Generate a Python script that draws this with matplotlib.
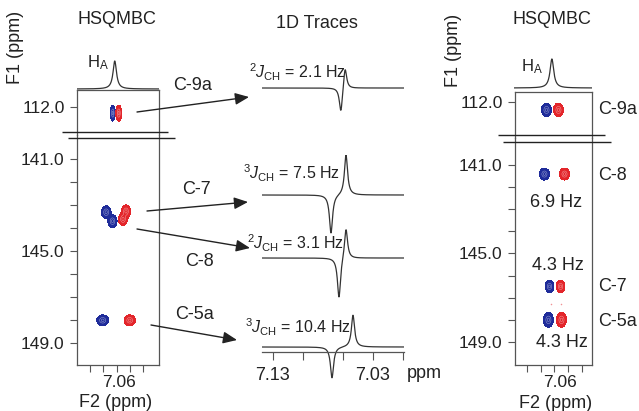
import numpy as np
import matplotlib
matplotlib.use('Agg')
import matplotlib.pyplot as plt
import matplotlib.transforms as mtransforms

plt.rcParams['font.family'] = ['Liberation Sans', 'DejaVu Sans']
plt.rcParams['mathtext.fontset'] = 'custom'
plt.rcParams['mathtext.rm'] = 'Liberation Sans'
plt.rcParams['mathtext.it'] = 'Liberation Sans:italic'
plt.rcParams['mathtext.bf'] = 'Liberation Sans:bold'

# ---------------- data ----------------
# Left HSQMBC panel (F2 ppm, F1 ppm) for blue / red antiphase components
left_labels = ['C-9a', 'C-7', 'C-8', 'C-5a']
left_blue_f2 = [7.0630, 7.0680, 7.0632, 7.0706]
left_blue_f1 = [112.26, 143.32, 143.71, 148.01]
left_red_f2 = [7.0585, 7.0530, 7.0553, 7.0502]
left_red_f1 = [112.26, 143.28, 143.62, 148.01]
left_blue_sig_f2 = [0.0009, 0.0017, 0.0016, 0.0021]
left_red_sig_f2 = [0.00105, 0.0016, 0.0016, 0.0020]
left_sig_f1 = [0.16, 0.13, 0.13, 0.11]

# Right HSQMBC panel
right_labels = ['C-9a', 'C-8', 'C-7', 'C-5a']
right_blue_f2 = [7.0658, 7.0673, 7.0636, 7.0644]
right_red_f2 = [7.0571, 7.0527, 7.0556, 7.0549]
right_f1 = [112.36, 141.41, 146.49, 148.00]
right_sig_f2 = [0.0017, 0.0017, 0.0015, 0.0017]
right_sig_f1 = [0.145, 0.126, 0.126, 0.155]
right_weak_f2 = [7.0622, 7.0556]
right_weak_f1 = [147.28, 147.28]
right_J_text = ['6.9 Hz', '4.3 Hz', '4.3 Hz']

# 1D projection (H_A)
proj_center = 7.0615
proj_height_left = 28
proj_height_right = 29
proj_hwhm = 0.0016

# 1D traces: antiphase doublets
trace_labels = [r'$^{2}\mathit{J}_{\mathrm{CH}}$ = 2.1 Hz',
                r'$^{3}\mathit{J}_{\mathrm{CH}}$ = 7.5 Hz',
                r'$^{2}\mathit{J}_{\mathrm{CH}}$ = 3.1 Hz',
                r'$^{3}\mathit{J}_{\mathrm{CH}}$ = 10.4 Hz']
trace_pos_ppm = [7.0579, 7.0570, 7.0570, 7.0500]
trace_neg_ppm = [7.0621, 7.0720, 7.0640, 7.0710]
trace_pos_amp = [22.5, 40.5, 31.0, 32.0]
trace_neg_amp = [26.0, 38.5, 41.0, 31.0]
trace_hwhm = 0.0019

# axes ticks
f1_top_ticks = [112.0]
f1_major_ticks = [141.0, 145.0, 149.0]
f1_minor_ticks = [142, 143, 144, 146, 147, 148]
f2_ticks = [7.08, 7.07, 7.06, 7.05, 7.04]
f2_label_tick = 7.06
trace_major_ticks = [7.13, 7.03]
trace_minor_ticks = [7.10, 7.06, 7.00]

# ---------------- figure ----------------
W, H = 639, 411
fig = plt.figure(figsize=(W / 100, H / 100), dpi=100)
TXT = '#222222'
SP = '#555555'
BLUE = '#1f2c9a'
RED = '#e3262b'


def px_axes(l, t, w, h):
    ax = fig.add_axes([l / W, 1 - (t + h) / H, w / W, h / H])
    ax.patch.set_alpha(0)
    return ax


def lorentz(x, c, a, g):
    return a / (1 + ((x - c) / g) ** 2)


def draw_peaks(ax, xs, ys, sx, sy, color, xlim, ylim):
    X, Y = np.meshgrid(np.linspace(min(xlim), max(xlim), 500),
                       np.linspace(min(ylim), max(ylim), 500))
    Z = np.zeros_like(X)
    for x, y, a, b in zip(xs, ys, sx, sy):
        Z += np.exp(-0.5 * ((X - x) / a) ** 2 - 0.5 * ((Y - y) / b) ** 2)
    if Z.max() < 0.1:
        return
    ax.contourf(X, Y, Z, levels=[0.1, 100], colors=[color])
    ax.contour(X, Y, Z, levels=[0.55, 0.88], colors='white', linewidths=0.35, alpha=0.55)


def style_2d(ax_top, ax_bot, ylim_top, ylim_bot, xlim, lbl_dx):
    for ax in (ax_top, ax_bot):
        ax.set_xlim(xlim)
        for s in ax.spines.values():
            s.set_color(SP)
            s.set_linewidth(0.9)
        ax.tick_params(direction='out', length=5, width=0.8, color=SP,
                       labelsize=12.5, labelcolor=TXT, pad=4)
        ax.tick_params(which='minor', direction='out', length=5, width=0.8, color=SP)
    ax_top.set_ylim(ylim_top)
    ax_bot.set_ylim(ylim_bot)
    ax_top.spines['bottom'].set_visible(False)
    ax_bot.spines['top'].set_visible(False)
    ax_top.set_xticks([])
    ax_top.set_yticks(f1_top_ticks)
    ax_top.set_yticklabels([f'{v:.1f}' for v in f1_top_ticks])
    ax_bot.set_yticks(f1_major_ticks)
    ax_bot.set_yticklabels([f'{v:.1f}' for v in f1_major_ticks])
    ax_bot.set_yticks(f1_minor_ticks, minor=True)
    ax_bot.set_xticks([f2_label_tick])
    ax_bot.set_xticklabels([f'{f2_label_tick:.2f}'], fontsize=12.5)
    ax_bot.tick_params(axis='x', which='major', length=5, pad=2)
    ax_bot.set_xticks([t for t in f2_ticks if t != f2_label_tick], minor=True)
    off = mtransforms.ScaledTranslation(lbl_dx / 100, 0, fig.dpi_scale_trans)
    for lab in ax_bot.get_xticklabels():
        lab.set_transform(lab.get_transform() + off)


# ----- left panel -----
xl_left = (7.0900, 7.0281)
lt = px_axes(77, 90, 82, 45)
lb = px_axes(77, 135, 82, 230)
style_2d(lt, lb, (113.20, 111.27), (149.95, 139.97), xl_left, 2)
for ax in (lt, lb):
    yl = ax.get_ylim()
    draw_peaks(ax, left_blue_f2, left_blue_f1, left_blue_sig_f2, left_sig_f1, BLUE, xl_left, yl)
    draw_peaks(ax, left_red_f2, left_red_f1, left_red_sig_f2, left_sig_f1, RED, xl_left, yl)

lp = px_axes(77, 50, 82, 40)
xx = np.linspace(xl_left[0], xl_left[1], 600)
lp.plot(xx, lorentz(xx, proj_center, proj_height_left, proj_hwhm), color='#333333', lw=0.9)
lp.set_xlim(xl_left)
lp.set_ylim(-1, 39)
lp.axis('off')

# ----- right panel -----
xl_right = (7.0887, 7.0327)
rt = px_axes(515, 92, 77, 46)
rb = px_axes(515, 138, 77, 227)
style_2d(rt, rb, (113.63, 111.55), (150.04, 139.78), xl_right, 6)
for ax in (rt, rb):
    yl = ax.get_ylim()
    draw_peaks(ax, right_blue_f2, right_f1, right_sig_f2, right_sig_f1, BLUE, xl_right, yl)
    draw_peaks(ax, right_red_f2, right_f1, right_sig_f2, right_sig_f1, RED, xl_right, yl)
rb.scatter(right_weak_f2, right_weak_f1, s=1.2, color=RED, alpha=0.5, lw=0)

rp = px_axes(514, 50, 78, 40)
xx = np.linspace(xl_right[0], xl_right[1], 600)
rp.plot(xx, lorentz(xx, proj_center, proj_height_right, proj_hwhm), color='#333333', lw=0.9)
rp.set_xlim(xl_right)
rp.set_ylim(-2, 38)
rp.axis('off')

# ----- middle 1D traces -----
xl_tr = (7.141, 6.999)
trace_tops = [48, 155, 218, 307]
xt = np.linspace(xl_tr[0], xl_tr[1], 1200)
for i in range(4):
    ax = px_axes(262, trace_tops[i], 142, 80)
    y = (lorentz(xt, trace_pos_ppm[i], trace_pos_amp[i], trace_hwhm)
         - lorentz(xt, trace_neg_ppm[i], trace_neg_amp[i], trace_hwhm))
    ax.plot(xt, y, color='#333333', lw=0.9)
    ax.set_xlim(xl_tr)
    ax.set_ylim(-40, 40)
    if i < 3:
        ax.axis('off')
    else:
        for s in ('left', 'right', 'top'):
            ax.spines[s].set_visible(False)
        ax.spines['bottom'].set_position(('data', -5))
        ax.spines['bottom'].set_color(SP)
        ax.spines['bottom'].set_linewidth(0.9)
        ax.set_yticks([])
        ax.set_xticks(trace_major_ticks)
        ax.set_xticklabels([f'{v:.2f}' for v in trace_major_ticks])
        ax.set_xticks(trace_minor_ticks, minor=True)
        ax.tick_params(axis='x', which='both', direction='out', length=6, width=0.8,
                       color=SP, labelsize=13, labelcolor=TXT, pad=5)

# ----- overlay annotations (pixel coordinates) -----
ov = fig.add_axes([0, 0, 1, 1])
ov.set_xlim(0, W)
ov.set_ylim(H, 0)
ov.axis('off')
ov.patch.set_alpha(0)

# break marks
for (x0, x1, y) in [(62, 168, 132), (68, 175, 138), (498, 605, 135), (503, 611, 142)]:
    ov.plot([x0, x1], [y, y], color='#222222', lw=1.0, solid_capstyle='butt')

ov.text(117, 20, 'HSQMBC', ha='center', va='center', fontsize=13, color=TXT)
ov.text(552, 20, 'HSQMBC', ha='center', va='center', fontsize=13, color=TXT)
ov.text(317, 23, '1D Traces', ha='center', va='center', fontsize=13, color=TXT)
ov.text(16, 47, 'F1 (ppm)', ha='center', va='center', rotation=90, fontsize=13, color=TXT)
ov.text(454, 50, 'F1 (ppm)', ha='center', va='center', rotation=90, fontsize=13, color=TXT)
ov.text(116, 402, 'F2 (ppm)', ha='center', va='center', fontsize=13, color=TXT)
ov.text(556, 403, 'F2 (ppm)', ha='center', va='center', fontsize=13, color=TXT)
ov.text(98, 63, r'H$_{\mathrm{A}}$', ha='center', va='center', fontsize=12, color=TXT)
ov.text(532, 67, r'H$_{\mathrm{A}}$', ha='center', va='center', fontsize=12, color=TXT)
ov.text(407, 373, 'ppm', ha='left', va='center', fontsize=13, color=TXT)

# left labels + arrows
left_label_pos = [(193, 85), (196, 189), (199, 261), (195, 314)]
arrow_start = [(137, 112), (147, 211), (137, 229), (151, 325)]
arrow_tip = [(249, 97), (248, 202), (250, 248), (237, 340)]
for lab, (x, y) in zip(left_labels, left_label_pos):
    ov.text(x, y, lab, ha='center', va='center', fontsize=13, color=TXT)
for s, t in zip(arrow_start, arrow_tip):
    ov.annotate('', xy=t, xytext=s,
                arrowprops=dict(arrowstyle='-|>,head_length=0.7,head_width=0.3',
                                mutation_scale=12, lw=1.0, color='#222222',
                                shrinkA=0, shrinkB=0))

# trace J labels
jpos = [(249, 72), (243, 173), (247, 243), (245, 327)]
for lab, (x, y) in zip(trace_labels, jpos):
    ov.text(x, y, lab, ha='left', va='center', fontsize=11.5, color=TXT)

# right labels
right_label_y = [109, 175, 286, 321]
for lab, y in zip(right_labels, right_label_y):
    ov.text(598, y, lab, ha='left', va='center', fontsize=13, color=TXT)
for lab, (x, y) in zip(right_J_text, [(556, 202), (558, 265), (562, 342)]):
    ov.text(x, y, lab, ha='center', va='center', fontsize=13, color=TXT)

fig.savefig('out.png', dpi=100)
